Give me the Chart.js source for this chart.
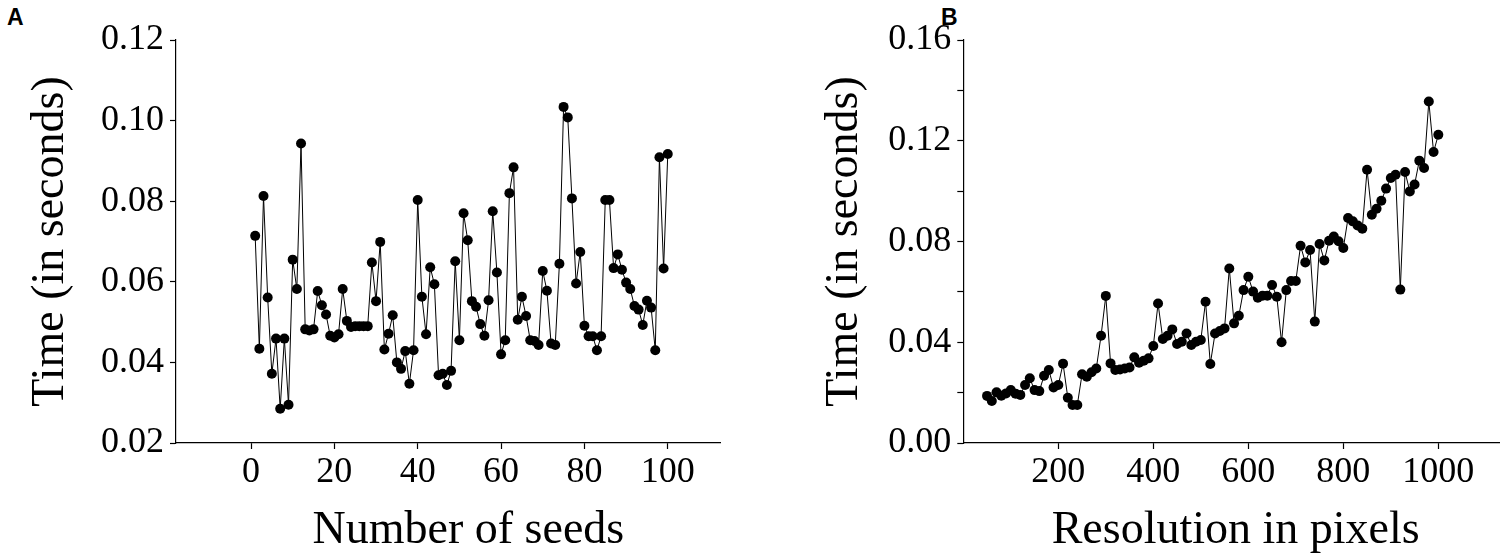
<!DOCTYPE html>
<html>
<head>
<meta charset="utf-8">
<script src="https://cdn.jsdelivr.net/npm/chart.js@4.4.1/dist/chart.umd.min.js"></script>
<style>
  html, body { margin: 0; padding: 0; background: #fff; overflow: hidden; }
  body { width: 1500px; height: 556px; position: relative; }
  canvas { position: absolute; top: 0; }
  #chartA { left: 0; }
  #chartB { left: 760px; }
  .panel-tag {
    position: absolute; top: 6px;
    font: bold 23px "Liberation Sans", Arial, sans-serif; line-height: 23px; color: #000;
  }
</style>
</head>
<body>
<div class="panel-tag" style="left:7px">A</div>
<div class="panel-tag" style="left:941px">B</div>
<canvas id="chartA" width="750" height="556"></canvas>
<canvas id="chartB" width="760" height="556"></canvas>
<script>
// Panel A: time vs number of seeds
const seedsA = [1,2,3,4,5,6,7,8,9,10,11,12,13,14,15,16,17,18,19,20,
  21,22,23,24,25,26,27,28,29,30,31,32,33,34,35,36,37,38,39,40,
  41,42,43,44,45,46,47,48,49,50,51,52,53,54,55,56,57,58,59,60,
  61,62,63,64,65,66,67,68,69,70,71,72,73,74,75,76,77,78,79,80,
  81,82,83,84,85,86,87,88,89,90,91,92,93,94,95,96,97,98,99,100];
const timeA = [0.0714,0.0434,0.0813,0.0561,0.0372,0.0459,0.0285,0.0459,0.0295,0.0655,
  0.0582,0.0943,0.0482,0.0479,0.0482,0.0577,0.0542,0.0519,0.0466,0.0462,
  0.0470,0.0582,0.0503,0.0488,0.0490,0.0490,0.0490,0.0490,0.0648,0.0552,
  0.0699,0.0432,0.0471,0.0517,0.0400,0.0384,0.0428,0.0347,0.0430,0.0803,
  0.0563,0.0470,0.0636,0.0594,0.0368,0.0372,0.0344,0.0379,0.0651,0.0455,
  0.0770,0.0703,0.0552,0.0538,0.0495,0.0466,0.0554,0.0775,0.0623,0.0420,
  0.0455,0.0820,0.0884,0.0506,0.0563,0.0515,0.0455,0.0453,0.0443,0.0627,
  0.0578,0.0447,0.0443,0.0645,0.1034,0.1008,0.0807,0.0596,0.0674,0.0491,
  0.0465,0.0465,0.0430,0.0465,0.0803,0.0803,0.0634,0.0668,0.0630,0.0598,
  0.0582,0.0540,0.0531,0.0493,0.0553,0.0536,0.0430,0.0909,0.0633,0.0917];
const xTicksA = [0, 20, 40, 60, 80, 100];

// Panel B: time vs resolution
const resolutionB = [50,60,70,80,90,100,110,120,130,140,150,160,170,180,190,200,
  210,220,230,240,250,260,270,280,290,300,310,320,330,340,350,360,370,380,390,400,
  410,420,430,440,450,460,470,480,490,500,510,520,530,540,550,560,570,580,590,600,
  610,620,630,640,650,660,670,680,690,700,710,720,730,740,750,760,770,780,790,800,
  810,820,830,840,850,860,870,880,890,900,910,920,930,940,950,960,970,980,990,1000];
const timeB = [0.0187,0.0167,0.0201,0.0188,0.0197,0.0210,0.0196,0.0191,0.0230,0.0257,
  0.0210,0.0206,0.0267,0.0290,0.0220,0.0230,0.0315,0.0180,0.0151,0.0151,
  0.0273,0.0263,0.0281,0.0296,0.0426,0.0584,0.0316,0.0290,0.0292,0.0296,
  0.0300,0.0340,0.0319,0.0327,0.0336,0.0385,0.0554,0.0413,0.0426,0.0451,
  0.0393,0.0402,0.0435,0.0389,0.0402,0.0409,0.0561,0.0314,0.0435,0.0445,
  0.0455,0.0693,0.0475,0.0505,0.0607,0.0660,0.0601,0.0577,0.0585,0.0585,
  0.0627,0.0581,0.0400,0.0607,0.0643,0.0643,0.0783,0.0717,0.0766,0.0482,
  0.0790,0.0725,0.0803,0.0820,0.0801,0.0774,0.0893,0.0880,0.0864,0.0851,
  0.1085,0.0906,0.0930,0.0962,0.1010,0.1052,0.1065,0.0609,0.1076,0.0999,
  0.1026,0.1121,0.1092,0.1356,0.1155,0.1224];
const xTicksB = [200, 400, 600, 800, 1000];

const SERIF = '"Liberation Serif", "Times New Roman", serif';

// x-axis title drawn under the axis, with an optional horizontal nudge
const xTitlePlugin = {
    id: 'xTitle',
    afterDraw(chart, args, opts) {
        const { ctx, chartArea } = chart;
        ctx.save();
        ctx.font = '46px ' + SERIF;
        ctx.fillStyle = '#000';
        ctx.textAlign = 'center';
        ctx.textBaseline = 'middle';
        ctx.fillText(opts.text, (chartArea.left + chartArea.right) / 2 + opts.dx, opts.y);
        ctx.restore();
    }
};

function axisStyle() {
    return {
        border: { display: true, color: '#000', width: 1.2 },
        grid: { drawOnChartArea: false, drawTicks: true, tickLength: 6, tickColor: '#000', tickWidth: 1.2 },
        ticks: { color: '#000', font: { family: SERIF, size: 36 } }
    };
}

function makeChart(canvasId, xs, ys, opts) {
    const ctx = document.getElementById(canvasId).getContext('2d');
    const points = xs.map((x, i) => ({ x: x, y: ys[i] }));

    const xAxis = axisStyle();
    xAxis.type = 'linear';
    xAxis.min = opts.xMin;
    xAxis.max = opts.xMax;
    xAxis.ticks.padding = 2;
    xAxis.ticks.callback = (v) => String(v);
    xAxis.afterBuildTicks = (scale) => { scale.ticks = opts.xTicks.map(v => ({ value: v })); };
    xAxis.afterFit = (scale) => { scale.height = 113; };

    const yAxis = axisStyle();
    yAxis.min = opts.yMin;
    yAxis.max = opts.yMax;
    yAxis.ticks.stepSize = 0.02;
    yAxis.ticks.padding = 6;
    yAxis.ticks.callback = opts.yLabel;
    yAxis.afterFit = (scale) => { scale.width = opts.yWidth; };
    yAxis.title = {
        display: true, text: 'Time (in seconds)', color: '#000',
        font: { family: SERIF, size: 46, lineHeight: 1 },
        padding: { top: opts.yTitlePad, bottom: 0 }
    };

    return new Chart(ctx, {
        type: 'scatter',
        data: {
            datasets: [{
                data: points,
                showLine: true,
                borderColor: '#000',
                borderWidth: 1,
                pointRadius: 5,
                pointBackgroundColor: '#000',
                pointBorderWidth: 0
            }]
        },
        options: {
            responsive: false,
            animation: false,
            devicePixelRatio: 1,
            layout: { padding: { left: 0, top: 40, right: opts.padRight, bottom: 0 } },
            plugins: {
                legend: { display: false },
                tooltip: { enabled: false },
                xTitle: { text: opts.xTitle, dx: opts.xTitleDx, y: 531 }
            },
            scales: { x: xAxis, y: yAxis }
        },
        plugins: [xTitlePlugin]
    });
}

makeChart('chartA', seedsA, timeA, {
    xMin: -18, xMax: 112.7, xTicks: xTicksA, xTitle: 'Number of seeds', xTitleDx: 20,
    yMin: 0.02, yMax: 0.12, yWidth: 176, yTitlePad: 28, padRight: 29.3,
    yLabel: (v) => v.toFixed(2)
});

makeChart('chartB', resolutionB, timeB, {
    xMin: 0, xMax: 1146.7, xTicks: xTicksB, xTitle: 'Resolution in pixels', xTitleDx: 0,
    yMin: 0, yMax: 0.16, yWidth: 203.3, yTitlePad: 62, padRight: 12,
    yLabel: (v, i) => (i % 2 === 0 ? v.toFixed(2) : '')
});
</script>
</body>
</html>
